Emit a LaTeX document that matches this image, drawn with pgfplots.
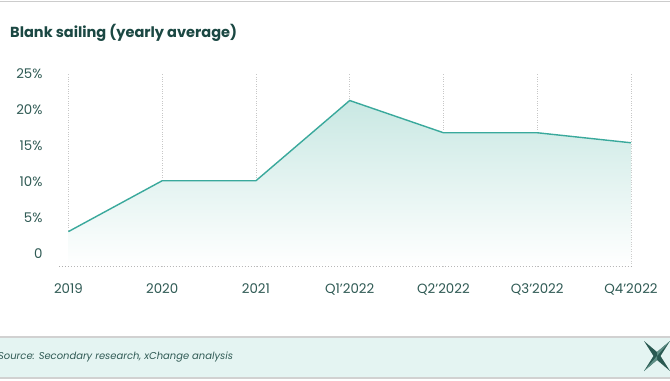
\documentclass[border=0pt]{standalone}
\usepackage{pgfplots}
\pgfplotsset{compat=1.18}
\usepackage{fontspec}
\setmainfont{Poppins}
\definecolor{linecol}{HTML}{3AA99C}
\definecolor{fillcol}{HTML}{C9E8E3}
\definecolor{titlecol}{HTML}{1B4843}
\definecolor{tickcol}{HTML}{2F5A54}
\definecolor{bandcol}{HTML}{E4F4F2}
\definecolor{logocol}{HTML}{2A5A52}
\definecolor{logolight}{HTML}{5E8F86}
\begin{document}
\begin{tikzpicture}[x=1bp,y=1bp]
\useasboundingbox (0,0) rectangle (670,380);
\fill[white] (0,0) rectangle (670,380);
\draw[black!20, line width=1.5bp] (0,378.5) -- (670,378.5);
\fill[bandcol] (0,2) rectangle (670,43);
\draw[black!18, line width=1.2bp] (0,43) -- (670,43);
\draw[black!18, line width=1.2bp] (0,2) -- (670,2);
\node[anchor=west, inner sep=0, text=titlecol, font=\fontsize{14.6}{17}\selectfont\bfseries] at (10,347) {Blank sailing (yearly average)};
\node[anchor=west, inner sep=0, text=tickcol, font=\fontsize{10}{12}\selectfont\itshape] at (-2,23) {Source: Secondary research, xChange analysis};
\begin{scope}[shift={(657,24)}]
\fill[logocol] (13,15) -- (3.5,0) -- (13,-15) -- (0,-4) -- (-13,-15) -- (-3.5,0) -- (-13,15) -- (0,4) -- cycle;
\fill[logolight] (13,15) -- (0,0) -- (0,4) -- cycle;
\fill[logolight] (-13,-15) -- (0,0) -- (0,-4) -- cycle;
\end{scope}
\begin{axis}[
  at={(59bp,114bp)}, anchor=south west,
  scale only axis, width=572bp, height=192bp,
  xmin=-0.1, xmax=6, ymin=-1.8, ymax=25,
  xtick={0,1,2,3,4,5,6},
  xticklabels={2019,2020,2021,Q1'2022,Q2'2022,Q3'2022,Q4'2022},
  ytick={0,5,10,15,20,25},
  yticklabels={0,5\%,10\%,15\%,20\%,25\%},
  axis x line*=bottom, axis y line*=left,
  x axis line style={draw=black!32, dotted, line width=1bp},
  y axis line style={draw=none},
  major tick length=0pt,
  xmajorgrids, grid style={draw=black!22, dotted, line width=0.8bp},
  tick label style={text=tickcol, font=\fontsize{13.4}{15}\selectfont},
  yticklabel style={anchor=east, xshift=-13bp},
  xticklabel style={yshift=-14bp},
  clip=false,
]
\addplot[draw=none, top color=fillcol, bottom color=white] coordinates {
(0,3.0) (1,10.1) (2,10.1) (3,21.3) (4,16.8) (5,16.8) (6,15.4)
} |- (axis cs:0,-1.8) -- cycle;
\addplot[linecol, line width=1.4bp] coordinates {
(0,3.0) (1,10.1) (2,10.1) (3,21.3) (4,16.8) (5,16.8) (6,15.4)
};
\end{axis}
\end{tikzpicture}
\end{document}
